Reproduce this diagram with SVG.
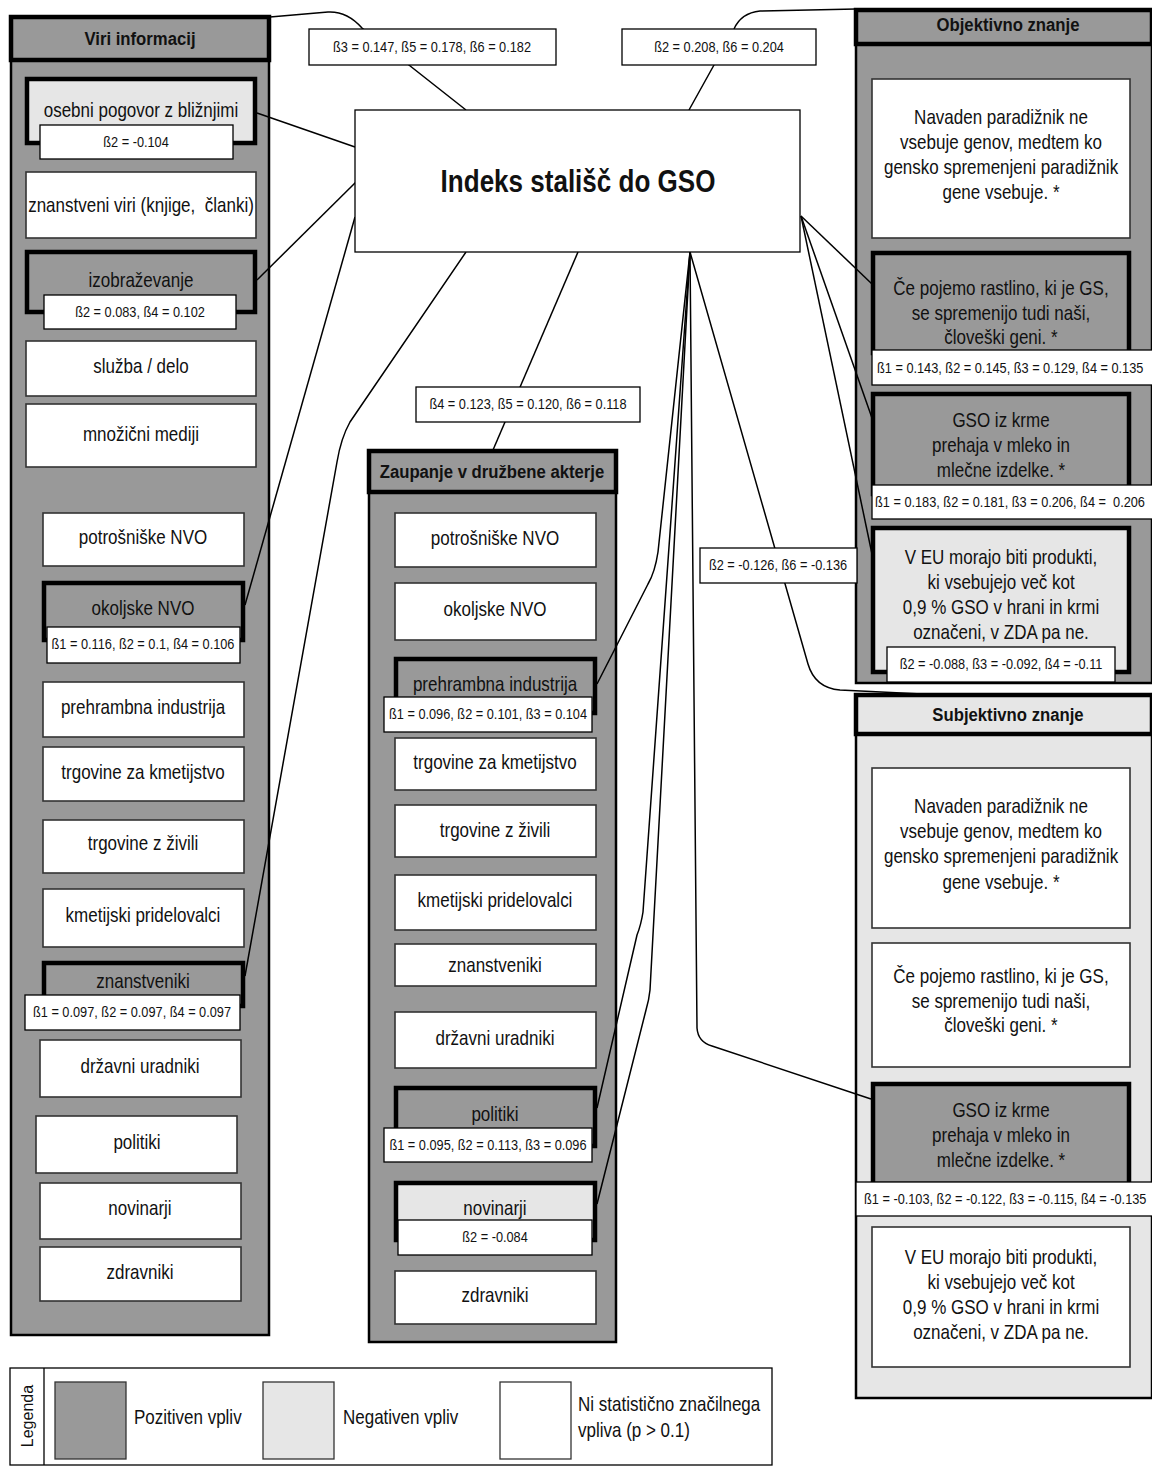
<svg xmlns="http://www.w3.org/2000/svg" width="1152" height="1468" viewBox="0 0 1152 1468">
<style>
.bg{fill:#fff}
.panel{fill:#999;stroke:#000;stroke-width:2.5}
.panelL{fill:#e6e6e6;stroke:#000;stroke-width:2.5}
.hdr{fill:#999;stroke:#000;stroke-width:4.5}
.hdrL{fill:#e6e6e6;stroke:#000;stroke-width:4.5}
.w{fill:#fff;stroke:#333;stroke-width:1.6}
.pos{fill:#999;stroke:#000;stroke-width:4.5}
.neg{fill:#e6e6e6;stroke:#000;stroke-width:4.5}
.lbl{fill:#fff;stroke:#000;stroke-width:1.3}
.sw{stroke:#333;stroke-width:1.3}
.conn{fill:none;stroke:#000;stroke-width:1.5}
text{font-family:"Liberation Sans",Arial,sans-serif;fill:#111;text-anchor:middle;font-size:20px;transform-box:fill-box;transform-origin:50% 50%;transform:scaleX(0.85)}
.s{font-size:14.5px;transform:scaleX(0.88)}
.b{font-weight:bold;font-size:19px;transform:scaleX(0.88)}
.st{text-anchor:start;transform-origin:0 50%}
.t30{font-size:31px;font-weight:bold;transform:scaleX(0.84)}
.leg{font-size:16px;dominant-baseline:central;transform-origin:50% 50%;transform:rotate(-90deg)}
</style>
<rect class="bg" x="0" y="0" width="1152" height="1468"/>

<g id="panel-viri">
<rect class="panel" x="11" y="60" width="258" height="1275"/>
<rect class="hdr" x="11" y="17" width="258" height="43"/>
<text class="b" x="140" y="45">Viri informacij</text>
</g>
<g id="v-osebni">
<rect class="neg" x="27" y="79" width="228" height="64"/>
<text x="141" y="117">osebni pogovor z bližnjimi</text>
<rect class="lbl" x="40" y="125" width="193" height="34"/>
<text class="s" x="136" y="147">ß2 = -0.104</text>
</g>
<g id="v-znanstveni-viri">
<rect class="w" x="26" y="172" width="230" height="66"/>
<text x="141" y="212">znanstveni viri (knjige, &#160;članki)</text>
</g>
<g id="v-izobrazevanje">
<rect class="pos" x="27" y="252" width="228" height="60"/>
<text x="141" y="287">izobraževanje</text>
<rect class="lbl" x="44" y="295" width="192" height="34"/>
<text class="s" x="140" y="317">ß2 = 0.083, ß4 = 0.102</text>
</g>
<g id="v-sluzba">
<rect class="w" x="26" y="341" width="230" height="55"/>
<text x="141" y="373">služba / delo</text>
</g>
<g id="v-mediji">
<rect class="w" x="26" y="404" width="230" height="63"/>
<text x="141" y="441">množični mediji</text>
</g>
<g id="v-potrosniske">
<rect class="w" x="43" y="513" width="201" height="53"/>
<text x="143" y="544">potrošniške NVO</text>
</g>
<g id="v-okoljske">
<rect class="pos" x="44" y="583" width="199" height="57"/>
<text x="143" y="615">okoljske NVO</text>
<rect class="lbl" x="47" y="627" width="193" height="36"/>
<text class="s" x="143" y="649">ß1 = 0.116, ß2 = 0.1, ß4 = 0.106</text>
</g>
<g id="v-prehrambna">
<rect class="w" x="43" y="682" width="201" height="55"/>
<text x="143" y="714">prehrambna industrija</text>
</g>
<g id="v-trg-kmet">
<rect class="w" x="43" y="747" width="201" height="54"/>
<text x="143" y="779">trgovine za kmetijstvo</text>
</g>
<g id="v-trg-zivili">
<rect class="w" x="43" y="820" width="201" height="53"/>
<text x="143" y="850">trgovine z živili</text>
</g>
<g id="v-kmetijski">
<rect class="w" x="43" y="889" width="201" height="58"/>
<text x="143" y="922">kmetijski pridelovalci</text>
</g>
<g id="v-znanstveniki">
<rect class="pos" x="44" y="963" width="199" height="43"/>
<text x="143" y="988">znanstveniki</text>
<rect class="lbl" x="25" y="995" width="215" height="35"/>
<text class="s" x="132" y="1017">ß1 = 0.097, ß2 = 0.097, ß4 = 0.097</text>
</g>
<g id="v-drzavni">
<rect class="w" x="40" y="1040" width="201" height="57"/>
<text x="140" y="1073">državni uradniki</text>
</g>
<g id="v-politiki">
<rect class="w" x="36" y="1116" width="201" height="57"/>
<text x="137" y="1149">politiki</text>
</g>
<g id="v-novinarji">
<rect class="w" x="40" y="1183" width="201" height="56"/>
<text x="140" y="1215">novinarji</text>
</g>
<g id="v-zdravniki">
<rect class="w" x="40" y="1247" width="201" height="54"/>
<text x="140" y="1279">zdravniki</text>
</g>

<g id="panel-zaupanje">
<rect class="panel" x="369" y="492" width="247" height="850"/>
<rect class="hdr" x="369" y="451" width="247" height="41"/>
<text class="b" x="492" y="478">Zaupanje v družbene akterje</text>
</g>
<g id="z-potrosniske">
<rect class="w" x="395" y="513" width="201" height="54"/>
<text x="495" y="545">potrošniške NVO</text>
</g>
<g id="z-okoljske">
<rect class="w" x="395" y="583" width="201" height="57"/>
<text x="495" y="616">okoljske NVO</text>
</g>
<g id="z-prehrambna">
<rect class="pos" x="396" y="659" width="199" height="54"/>
<text x="495" y="691">prehrambna industrija</text>
<rect class="lbl" x="384" y="697" width="208" height="35"/>
<text class="s" x="488" y="719">ß1 = 0.096, ß2 = 0.101, ß3 = 0.104</text>
</g>
<g id="z-trg-kmet">
<rect class="w" x="395" y="738" width="201" height="52"/>
<text x="495" y="769">trgovine za kmetijstvo</text>
</g>
<g id="z-trg-zivili">
<rect class="w" x="395" y="805" width="201" height="52"/>
<text x="495" y="837">trgovine z živili</text>
</g>
<g id="z-kmetijski">
<rect class="w" x="395" y="875" width="201" height="55"/>
<text x="495" y="907">kmetijski pridelovalci</text>
</g>
<g id="z-znanstveniki">
<rect class="w" x="395" y="944" width="201" height="42"/>
<text x="495" y="972">znanstveniki</text>
</g>
<g id="z-drzavni">
<rect class="w" x="395" y="1012" width="201" height="56"/>
<text x="495" y="1045">državni uradniki</text>
</g>
<g id="z-politiki">
<rect class="pos" x="396" y="1088" width="199" height="58"/>
<text x="495" y="1121">politiki</text>
<rect class="lbl" x="384" y="1128" width="208" height="34"/>
<text class="s" x="488" y="1150">ß1 = 0.095, ß2 = 0.113, ß3 = 0.096</text>
</g>
<g id="z-novinarji">
<rect class="neg" x="396" y="1183" width="199" height="57"/>
<text x="495" y="1215">novinarji</text>
<rect class="lbl" x="398" y="1220" width="194" height="35"/>
<text class="s" x="495" y="1242">ß2 = -0.084</text>
</g>
<g id="z-zdravniki">
<rect class="w" x="395" y="1271" width="201" height="53"/>
<text x="495" y="1302">zdravniki</text>
</g>

<g id="panel-objektivno">
<rect class="panel" x="856" y="44" width="296" height="639"/>
<rect class="hdr" x="856" y="10" width="296" height="34"/>
<text class="b" x="1008" y="31">Objektivno znanje</text>
</g>
<g id="o-navaden">
<rect class="w" x="872" y="79" width="258" height="159"/>
<text x="1001" y="124">Navaden paradižnik ne</text>
<text x="1001" y="149">vsebuje genov, medtem ko</text>
<text x="1001" y="174">gensko spremenjeni paradižnik</text>
<text x="1001" y="199">gene vsebuje. *</text>
</g>
<g id="o-ce-pojemo">
<rect class="pos" x="873" y="253" width="256" height="100"/>
<text x="1001" y="295">Če pojemo rastlino, ki je GS,</text>
<text x="1001" y="320">se spremenijo tudi naši,</text>
<text x="1001" y="344">človeški geni. *</text>
<rect class="lbl" x="872" y="350" width="290" height="35"/>
<text class="s st" x="877" y="373">ß1 = 0.143, ß2 = 0.145, ß3 = 0.129, ß4 = 0.135</text>
</g>
<g id="o-gso-krme">
<rect class="pos" x="873" y="394" width="256" height="100"/>
<text x="1001" y="427">GSO iz krme</text>
<text x="1001" y="452">prehaja v mleko in</text>
<text x="1001" y="477">mlečne izdelke. *</text>
<rect class="lbl" x="872" y="485" width="290" height="34"/>
<text class="s st" x="875" y="507">ß1 = 0.183, ß2 = 0.181, ß3 = 0.206, ß4 =&#160; 0.206</text>
</g>
<g id="o-v-eu">
<rect class="neg" x="873" y="528" width="256" height="144"/>
<text x="1001" y="564">V EU morajo biti produkti,</text>
<text x="1001" y="589">ki vsebujejo več kot</text>
<text x="1001" y="614">0,9 % GSO v hrani in krmi</text>
<text x="1001" y="639">označeni, v ZDA pa ne.</text>
<rect class="lbl" x="887" y="647" width="228" height="35"/>
<text class="s" x="1001" y="669">ß2 = -0.088, ß3 = -0.092, ß4 = -0.11</text>
</g>

<g id="panel-subjektivno">
<rect class="panelL" x="856" y="734" width="296" height="664"/>
<rect class="hdrL" x="856" y="695" width="296" height="39"/>
<text class="b" x="1008" y="721">Subjektivno znanje</text>
</g>
<g id="s-navaden">
<rect class="w" x="872" y="768" width="258" height="160"/>
<text x="1001" y="813">Navaden paradižnik ne</text>
<text x="1001" y="838">vsebuje genov, medtem ko</text>
<text x="1001" y="863">gensko spremenjeni paradižnik</text>
<text x="1001" y="889">gene vsebuje. *</text>
</g>
<g id="s-ce-pojemo">
<rect class="w" x="872" y="943" width="258" height="124"/>
<text x="1001" y="983">Če pojemo rastlino, ki je GS,</text>
<text x="1001" y="1008">se spremenijo tudi naši,</text>
<text x="1001" y="1032">človeški geni. *</text>
</g>
<g id="s-gso-krme">
<rect class="pos" x="873" y="1084" width="256" height="100"/>
<text x="1001" y="1117">GSO iz krme</text>
<text x="1001" y="1142">prehaja v mleko in</text>
<text x="1001" y="1167">mlečne izdelke. *</text>
<rect class="lbl" x="856" y="1182" width="300" height="34"/>
<text class="s st" x="864" y="1204">ß1 = -0.103, ß2 = -0.122, ß3 = -0.115, ß4 = -0.135</text>
</g>
<g id="s-v-eu">
<rect class="w" x="872" y="1227" width="258" height="140"/>
<text x="1001" y="1264">V EU morajo biti produkti,</text>
<text x="1001" y="1289">ki vsebujejo več kot</text>
<text x="1001" y="1314">0,9 % GSO v hrani in krmi</text>
<text x="1001" y="1339">označeni, v ZDA pa ne.</text>
</g>

<g id="connectors">
<path class="conn" d="M257 113 L355 147"/>
<path class="conn" d="M257 280 L356 182"/>
<path class="conn" d="M355 217 L245 605"/>
<path class="conn" d="M466 252 L350 422 Q341 438 337 462 L245 976"/>
<path class="conn" d="M578 252 L493 450"/>
<path class="conn" d="M690 252 L658 552 Q655 572 648 584 L597 684"/>
<path class="conn" d="M690 252 L643 912 Q641 925 637 935 L597 1108"/>
<path class="conn" d="M690 252 L650 990 Q649 1000 646 1010 L597 1204"/>
<path class="conn" d="M690 252 L697 1028 Q698 1042 712 1046 L871 1099"/>
<path class="conn" d="M690 252 L808 664 Q815 688 840 690 L922 694"/>
<path class="conn" d="M801 216 L872 284"/>
<path class="conn" d="M801 216 L872 418"/>
<path class="conn" d="M801 216 L872 554"/>
<path class="conn" d="M270 17 L328 12 Q347 11 362 28 L466 110"/>
<path class="conn" d="M689 110 L734 29 Q741 13 760 11 L856 9"/>
</g>

<g id="labels">
<rect class="lbl" x="309" y="29" width="247" height="36"/>
<text class="s" x="432" y="52">ß3 = 0.147, ß5 = 0.178, ß6 = 0.182</text>
<rect class="lbl" x="622" y="29" width="194" height="36"/>
<text class="s" x="719" y="52">ß2 = 0.208, ß6 = 0.204</text>
<rect class="lbl" x="416" y="387" width="224" height="35"/>
<text class="s" x="528" y="409">ß4 = 0.123, ß5 = 0.120, ß6 = 0.118</text>
<rect class="lbl" x="700" y="548" width="157" height="35"/>
<text class="s" x="778" y="570">ß2 = -0.126, ß6 = -0.136</text>
</g>

<g id="central">
<rect class="lbl" x="355" y="110" width="445" height="142"/>
<text class="t30" x="578" y="192">Indeks stališč do GSO</text>
</g>

<g id="legend">
<rect class="lbl" x="10" y="1368" width="762" height="97"/>
<line x1="44" y1="1368" x2="44" y2="1465" stroke="#000" stroke-width="1.3"/>
<text class="leg" x="27" y="1416">Legenda</text>
<rect class="sw" x="55" y="1382" width="71" height="77" fill="#999"/>
<text class="st" x="134" y="1424">Pozitiven vpliv</text>
<rect class="sw" x="263" y="1382" width="71" height="77" fill="#e6e6e6"/>
<text class="st" x="343" y="1424">Negativen vpliv</text>
<rect class="sw" x="500" y="1382" width="71" height="77" fill="#fff"/>
<text class="st" x="578" y="1411">Ni statistično značilnega</text>
<text class="st" x="578" y="1437">vpliva (p &gt; 0.1)</text>
</g>
</svg>
